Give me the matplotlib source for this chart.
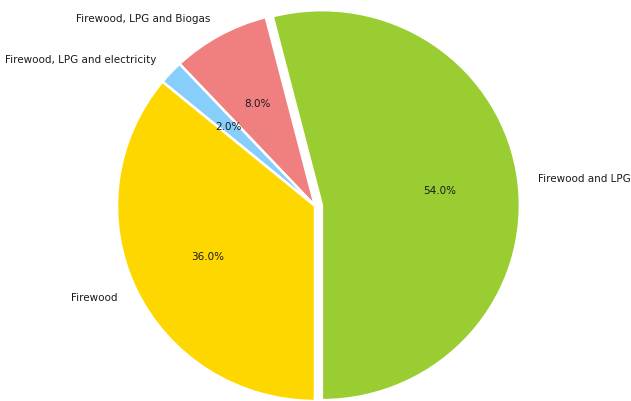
import matplotlib
matplotlib.use("Agg")
from matplotlib import pyplot as plt

labels = ["Firewood and LPG", "Firewood, LPG and Biogas",
          "Firewood, LPG and electricity", "Firewood"]
shares = [54, 8, 2, 36]
colors = ["yellowgreen", "lightcoral", "lightskyblue", "gold"]
explode = [0.035, 0, 0, 0]

fig = plt.figure(figsize=(6.31, 4.02), dpi=100)
ax = fig.add_axes([0, 0, 1, 1])

ax.pie(shares, labels=labels, colors=colors, explode=explode,
       autopct="%1.1f%%", startangle=-90,
       wedgeprops={"edgecolor": "white", "linewidth": 1.8},
       textprops={"fontsize": 7.5, "color": "#1a1a1a"})

# pie is a touch wider than tall in the original
ax.set_aspect("auto")
ax.set_xlim(-315 / 198, (631 - 315) / 198)
ax.set_ylim(-195 / 195, (402 - 195) / 195)
ax.axis("off")

fig.savefig("out.png", dpi=100)
